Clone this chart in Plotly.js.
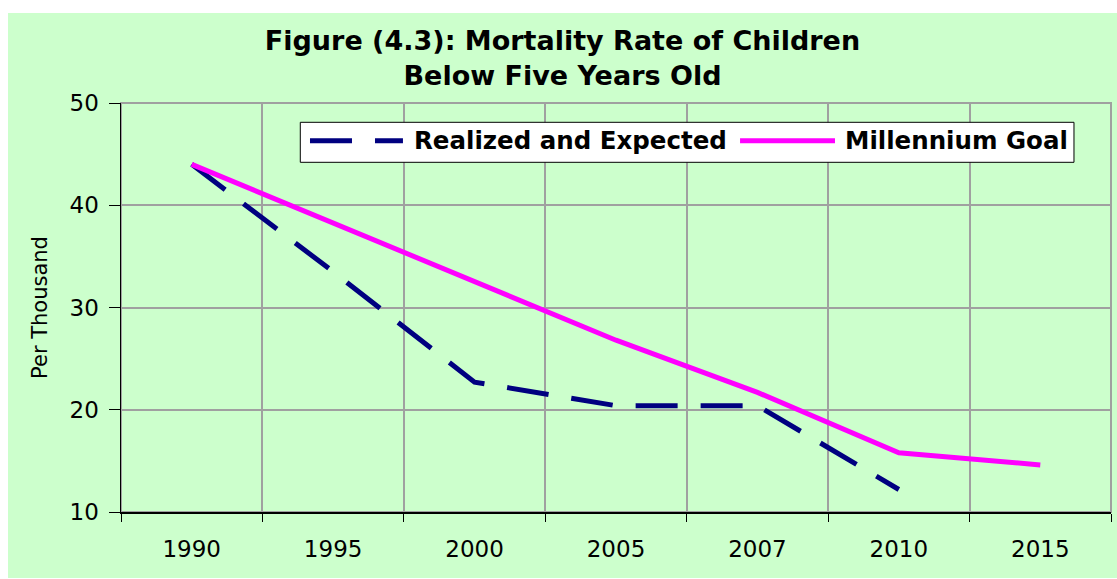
<!DOCTYPE html>
<html>
<head>
<meta charset="utf-8">
<script src="https://cdn.plot.ly/plotly-3.0.1.min.js"></script>
<style>
  html, body { margin: 0; padding: 0; background: #ffffff; }
  #chart { position: absolute; left: 8px; top: 13px; width: 1109px; height: 565px; }
</style>
</head>
<body>
<div id="chart"></div>
<script>
const years = ["1990", "1995", "2000", "2005", "2007", "2010", "2015"];
const realizedYears = ["1990", "1995", "2000", "2005", "2007", "2010"];
const realizedValues = [44, 33.5, 22.7, 20.4, 20.4, 12.2];
const goalValues = [44, 38.3, 32.5, 26.8, 21.7, 15.8, 14.6];
const seriesNames = ["Realized and Expected", "Millennium Goal"];
const yTicks = [10, 20, 30, 40, 50];

const FONT = "DejaVu Sans, Liberation Sans, Arial, sans-serif";
const NAVY = "#000080";
const MAGENTA = "#FF00FF";
const GRID = "#a0a0a0";

const traces = [
  {
    x: realizedYears, y: realizedValues, name: seriesNames[0],
    type: "scatter", mode: "lines",
    line: { color: NAVY, width: 5, dash: "42px,23px" },
    showlegend: false, hoverinfo: "x+y"
  },
  {
    x: years, y: goalValues, name: seriesNames[1],
    type: "scatter", mode: "lines",
    line: { color: MAGENTA, width: 5 },
    showlegend: false, hoverinfo: "x+y"
  }
];

// plot-area frame + custom legend (box, symbols, labels) in paper coordinates
const legY = 0.9078;
const shapes = [
  { type: "rect", xref: "paper", yref: "paper", x0: 0, x1: 1, y0: 0, y1: 1,
    fillcolor: "rgba(0,0,0,0)", line: { color: GRID, width: 2 }, layer: "below" },
  { type: "rect", xref: "paper", yref: "paper", x0: 0.1811, x1: 0.9626, y0: 0.855, y1: 0.9528,
    fillcolor: "#ffffff", line: { color: "#000000", width: 1 }, layer: "above" },
  { type: "line", xref: "paper", yref: "paper", x0: 0.1909, x1: 0.2848, y0: legY, y1: legY,
    line: { color: NAVY, width: 5, dash: "42px,23px" }, layer: "above" },
  { type: "line", xref: "paper", yref: "paper", x0: 0.6253, x1: 0.7212, y0: legY, y1: legY,
    line: { color: MAGENTA, width: 5 }, layer: "above" }
];
const annotations = [
  { xref: "paper", yref: "paper", x: 0.2939, y: legY, xanchor: "left", yanchor: "middle",
    text: seriesNames[0], showarrow: false, font: { family: FONT, size: 24.5, color: "#000", weight: "bold" } },
  { xref: "paper", yref: "paper", x: 0.7293, y: legY, xanchor: "left", yanchor: "middle",
    text: seriesNames[1], showarrow: false, font: { family: FONT, size: 24.5, color: "#000", weight: "bold" } }
];

const layout = {
  width: 1109, height: 565,
  margin: { l: 113, r: 6, t: 90, b: 66, pad: 0 },
  paper_bgcolor: "#CCFFCC",
  plot_bgcolor: "#CCFFCC",
  showlegend: false,
  title: {
    text: "<b>Figure (4.3): Mortality Rate of Children<br>Below Five Years Old</b>",
    font: { family: FONT, size: 27, color: "#000" },
    x: 0.5, xref: "container", xanchor: "center",
    y: 0.935, yref: "container", yanchor: "top"
  },
  xaxis: {
    type: "category",
    categoryorder: "array", categoryarray: years,
    tickson: "boundaries",
    ticks: "outside", ticklen: 8, tickcolor: "#000", tickwidth: 1,
    showline: true, linecolor: "#000", linewidth: 1.5,
    showgrid: true, gridcolor: GRID, gridwidth: 2,
    tickfont: { family: FONT, size: 23, color: "#000" },
    ticklabelstandoff: 16,
    range: [-0.5, 6.5], fixedrange: true
  },
  yaxis: {
    range: [10, 50], tickvals: yTicks, ticktext: yTicks.map(String),
    ticks: "outside", ticklen: 11, tickcolor: "#000", tickwidth: 1,
    showline: true, linecolor: "#000", linewidth: 1.5,
    showgrid: true, gridcolor: GRID, gridwidth: 2,
    zeroline: false,
    tickfont: { family: FONT, size: 23, color: "#000" },
    ticklabelstandoff: 5,
    title: { text: "Per Thousand", font: { family: FONT, size: 21, color: "#000" }, standoff: 16 },
    fixedrange: true
  },
  shapes: shapes,
  annotations: annotations
};

Plotly.newPlot("chart", traces, layout, { displayModeBar: false, staticPlot: true });
</script>
</body>
</html>
